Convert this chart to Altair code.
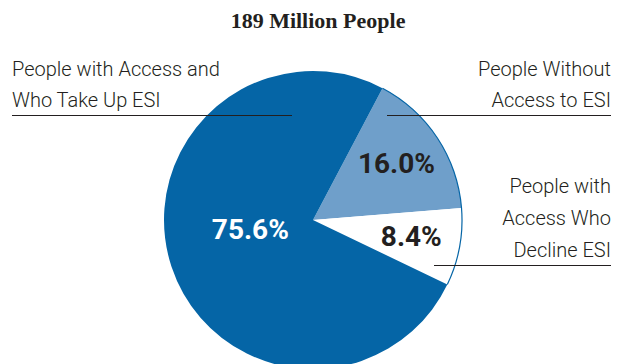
import math
import altair as alt
import pandas as pd

# ---- data ----
categories = ["without", "decline", "takeup"]
shares = [16.0, 8.4, 75.6]
pct_labels = ["16.0%", "8.4%", "75.6%"]
slice_colors = ["#6f9fca", "#ffffff", "#0565a6"]
title_text = "189 Million People"
label_left = "People with Access and\nWho Take Up ESI"
label_right_top = "People Without\nAccess to ESI"
label_right_bottom = "People with\nAccess Who\nDecline ESI"

df = pd.DataFrame({"cat": categories, "value": shares, "pct": pct_labels,
                   "order": list(range(len(categories)))})

W, H = 627, 364
CX, CY, R = 313, 220, 149
start = math.radians(27.8)
theta_scale = alt.Scale(domain=[0, 100], range=[start, start + 2 * math.pi])
color_scale = alt.Scale(domain=categories, range=slice_colors)

base = alt.Chart(df).transform_stack(
    stack="value", groupby=[], as_=["v0", "v1"], sort=[{"field": "order", "order": "ascending"}]
).transform_calculate(mid="(datum.v0 + datum.v1) / 2")

pie = base.mark_arc(radius=R, strokeWidth=0).encode(
    theta=alt.Theta("v0:Q", scale=theta_scale),
    theta2="v1:Q",
    color=alt.Color("cat:N", scale=color_scale, legend=None),
    x=alt.value(CX), y=alt.value(CY),
)

# thin dark outline along the outer edge of the lighter slices
pie_edge = base.transform_filter("datum.cat != 'takeup'").mark_arc(
    radius=R + 0.6, radius2=R - 0.6, fill="#0565a6", strokeWidth=0
).encode(
    theta=alt.Theta("v0:Q", scale=theta_scale),
    theta2="v1:Q",
    x=alt.value(CX), y=alt.value(CY),
)

FONT = "Roboto"

pct_small = base.transform_filter("datum.cat != 'takeup'").mark_text(
    radius=100, font=FONT, fontSize=28, fontWeight="bold", color="#231f20",
    align="center", baseline="middle"
).encode(
    theta=alt.Theta("mid:Q", scale=theta_scale),
    text="pct:N",
    x=alt.value(CX), y=alt.value(CY),
)

pct_big = base.transform_filter("datum.cat == 'takeup'").mark_text(
    radius=66, dy=-10, font=FONT, fontSize=28, fontWeight="bold", color="#ffffff",
    align="center", baseline="middle"
).encode(
    theta=alt.Theta("mid:Q", scale=theta_scale),
    text="pct:N",
    x=alt.value(CX), y=alt.value(CY),
)

title = alt.Chart(pd.DataFrame({"t": [title_text]})).mark_text(
    font="Liberation Serif", fontSize=22, fontWeight="bold",
    color="#231f20", align="center", baseline="alphabetic"
).encode(text="t:N", x=alt.value(318), y=alt.value(28))

lab_df = pd.DataFrame({"t": [label_left, label_right_top, label_right_bottom]})

def label(i, x, y, align, lh):
    return alt.Chart(lab_df.iloc[[i]]).mark_text(
        font=FONT, fontSize=20, fontWeight=300, color="#231f20", align=align,
        baseline="alphabetic", lineBreak="\n", lineHeight=lh
    ).encode(text="t:N", x=alt.value(x), y=alt.value(y))

lab1 = label(0, 12, 76, "left", 31)
lab2 = label(1, 611, 76, "right", 31)
lab3 = label(2, 611, 193, "right", 32)

def rule(x1, x2, y):
    return alt.Chart(pd.DataFrame({"a": [0]})).mark_rule(color="#231f20", strokeWidth=1).encode(
        x=alt.value(x1), x2=alt.value(x2), y=alt.value(y)
    )

rules = rule(12, 292, 115.5) + rule(387, 611, 115.5) + rule(434, 611, 265.5)

chart = alt.layer(pie, pie_edge, pct_small, pct_big, title, lab1, lab2, lab3, rules).properties(
    width=W, height=H, autosize=alt.AutoSizeParams(type="none"), padding=0,
    background="#ffffff"
).configure_view(stroke=None)

chart.save("out.html", embed_options={"renderer": "svg", "actions": False})
